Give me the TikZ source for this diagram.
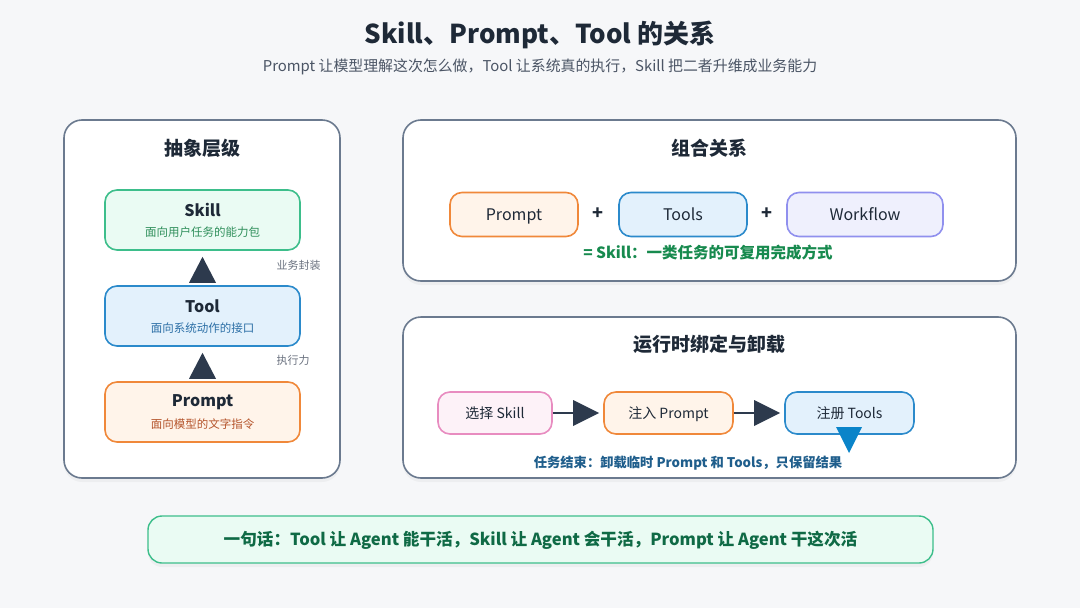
\documentclass[tikz,border=0pt]{standalone}
\usepackage{fontspec}
\setmainfont{Noto Sans CJK SC}
\usetikzlibrary{arrows.meta,shadows}
\definecolor{bgc}{HTML}{F6F7F9}
\definecolor{panelb}{HTML}{6B7A8F}
\definecolor{ink}{HTML}{1E2937}
\definecolor{subink}{HTML}{4B5565}
\definecolor{noteink}{HTML}{6B7280}
\definecolor{gb}{HTML}{3DBE8B}\definecolor{gf}{HTML}{EAFBF3}\definecolor{gt}{HTML}{2F8F5B}
\definecolor{bb}{HTML}{2B8ACB}\definecolor{bf}{HTML}{E3F1FC}\definecolor{bt}{HTML}{2C6FA6}
\definecolor{ob}{HTML}{F0883A}\definecolor{of}{HTML}{FFF4EA}\definecolor{ot}{HTML}{B4532A}
\definecolor{pb}{HTML}{9090EE}\definecolor{pf}{HTML}{EFF0FD}
\definecolor{kb}{HTML}{E88CC0}\definecolor{kf}{HTML}{FDF2F8}
\definecolor{skillt}{HTML}{178A4E}
\definecolor{rest}{HTML}{1F5E8C}
\definecolor{bannert}{HTML}{0F6A45}
\definecolor{arrowc}{HTML}{2D3A4D}
\definecolor{tri}{HTML}{0A84C9}
\tikzset{
  panel/.style={draw=panelb, line width=1.6pt, fill=white, rounded corners=18pt,
    drop shadow={opacity=0.07, shadow xshift=0pt, shadow yshift=-4pt}},
  box/.style={rounded corners=12pt, line width=1.6pt, inner sep=0pt},
  ptitle/.style={font=\fontsize{19}{22}\selectfont\bfseries, text=ink},
  mainlab/.style={font=\fontsize{16}{19}\selectfont\bfseries, text=ink},
  sublab/.style={font=\fontsize{11.5}{14}\selectfont},
  rowlab/.style={font=\fontsize{16}{19}\selectfont, text=ink, text height=11.5pt, text depth=3.5pt, yshift=-1.7pt},
  pluslab/.style={font=\fontsize{18}{20}\selectfont\bfseries, text=ink},
  flowlab/.style={font=\fontsize{14}{17}\selectfont, text=ink, text height=10pt, text depth=3pt, yshift=-1.5pt},
  note/.style={font=\fontsize{11}{13}\selectfont, text=noteink, anchor=west},
  flow/.style={draw=arrowc, line width=2.6pt, -{Triangle[length=26pt,width=26pt,line width=0pt]}, shorten >=4pt},
  uptri/.style={draw=arrowc, line width=0.1pt, -{Triangle[length=26pt,width=27pt,line width=0pt]}},
}
\begin{document}
\begin{tikzpicture}[x=1pt,y=-1pt]
\fill[bgc] (0,0) rectangle (1080,608);
\useasboundingbox (0,0) rectangle (1080,608);

\node (title) at (540,35) {\fontsize{26}{30}\selectfont\bfseries\color{ink}Skill、Prompt、Tool 的关系};
\node (subtitle) at (540,67) {\fontsize{14.9}{17}\selectfont\color{subink}Prompt 让模型理解这次怎么做，Tool 让系统真的执行，Skill 把二者升维成业务能力};

% left panel
\node[panel, minimum width=276pt, minimum height=358pt] (lp) at (202,299) {};
\node[ptitle] (lpt) at (202.5,148) {抽象层级};
\node[box, draw=gb, fill=gf, minimum width=195pt, minimum height=60pt] (skill) at (202.5,220) {};
\node[mainlab] (skillm) at (202.5,210) {Skill};
\node[sublab, text=gt] (skills) at (202.5,232) {面向用户任务的能力包};
\node[box, draw=bb, fill=bf, minimum width=195pt, minimum height=60pt] (tool) at (202.5,316) {};
\node[mainlab] (toolm) at (202.5,306) {Tool};
\node[sublab, text=bt] (tools) at (202.5,328) {面向系统动作的接口};
\node[box, draw=ob, fill=of, minimum width=195pt, minimum height=60pt] (prompt) at (202.5,412) {};
\node[mainlab] (promptm) at (202.5,402) {Prompt};
\node[sublab, text=ot] (prompts) at (202.5,424) {面向模型的文字指令};
\draw[uptri] ([yshift=4pt]tool.north) -- ([yshift=-6pt]skill.south);
\draw[uptri] ([yshift=4pt]prompt.north) -- ([yshift=-6pt]tool.south);
\node[note] (n1) at (273,265) {业务封装};
\node[note] (n2) at (273,360) {执行力};

% right top panel
\node[panel, minimum width=613pt, minimum height=161pt] (rt) at (709.5,200.5) {};
\node[ptitle] (rtt) at (709,148) {组合关系};
\node[box, draw=ob, fill=of, minimum width=128pt, minimum height=44pt] (cp) at (514,214.5) {};
\node[rowlab] (cpl) at (cp) {Prompt};
\node[pluslab] (plus1) at (598,214) {+};
\node[box, draw=bb, fill=bf, minimum width=128pt, minimum height=44pt] (ct) at (683,214.5) {};
\node[rowlab] (ctl) at (ct) {Tools};
\node[pluslab] (plus2) at (767,214) {+};
\node[box, draw=pb, fill=pf, minimum width=156pt, minimum height=44pt] (cw) at (865,214.5) {};
\node[rowlab] (cwl) at (cw) {Workflow};
\node (eq) at (708,253) {\fontsize{15.5}{18}\selectfont\bfseries\color{skillt}= Skill：一类任务的可复用完成方式};

% right bottom panel
\node[panel, minimum width=613pt, minimum height=161pt] (rb) at (709.5,397.5) {};
\node[ptitle] (rbt) at (709,344) {运行时绑定与卸载};
\node[box, draw=kb, fill=kf, minimum width=114pt, minimum height=42pt] (s1) at (495,413) {};
\node[flowlab] (s1l) at (s1) {选择 Skill};
\node[box, draw=ob, fill=of, minimum width=129pt, minimum height=42pt] (s2) at (668.5,413) {};
\node[flowlab] (s2l) at (s2) {注入 Prompt};
\node[box, draw=bb, fill=bf, minimum width=129pt, minimum height=42pt] (s3) at (849.5,413) {};
\node[flowlab] (s3l) at (s3) {注册 Tools};
\draw[flow] (s1.east) -- (s2.west);
\draw[flow] (s2.east) -- (s3.west);
\node (res) at (688,463) {\fontsize{13.3}{16}\selectfont\bfseries\color{rest}任务结束：卸载临时 Prompt 和 Tools，只保留结果};
\fill[tri] (836,427) -- (862,427) -- (849,453) -- cycle;

% banner
\node[draw=gb, fill=gf, line width=1.4pt, rounded corners=14pt, minimum width=785pt, minimum height=47pt,
  drop shadow={opacity=0.07, shadow xshift=0pt, shadow yshift=-4pt}] (banner) at (540.5,539.5) {};
\node (bt) at (540.5,540) {\fontsize{16.6}{19}\selectfont\bfseries\color{bannert}一句话：Tool 让 Agent 能干活，Skill 让 Agent 会干活，Prompt 让 Agent 干这次活};
\end{tikzpicture}
\end{document}
